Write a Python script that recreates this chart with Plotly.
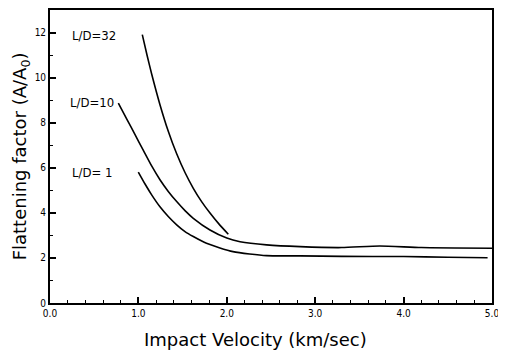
import plotly.graph_objects as go

# Data
x_ld32 = [1.044, 1.10, 1.15, 1.244, 1.338, 1.433, 1.527, 1.621, 1.715, 1.81, 1.91, 2.017]
y_ld32 = [11.91, 10.96, 10.16, 8.80, 7.62, 6.62, 5.79, 5.09, 4.50, 3.99, 3.51, 3.05]

x_ld10 = [0.773, 0.87, 0.962, 1.056, 1.150, 1.244, 1.338, 1.433, 1.527, 1.621, 1.81, 2.0,
          2.15, 2.45, 2.83, 3.3, 3.73, 4.2, 5.0]
y_ld10 = [8.87, 8.15, 7.47, 6.77, 6.08, 5.47, 4.95, 4.50, 4.10, 3.76, 3.24, 2.88,
          2.72, 2.58, 2.50, 2.46, 2.53, 2.46, 2.43]

x_ld1 = [0.999, 1.075, 1.150, 1.244, 1.338, 1.433, 1.527, 1.621, 1.77, 2.07, 2.45, 2.83,
         3.3, 4.0, 4.5, 4.95]
y_ld1 = [5.81, 5.28, 4.80, 4.27, 3.84, 3.47, 3.17, 2.95, 2.65, 2.28, 2.10, 2.09,
         2.07, 2.06, 2.03, 2.01]

series_names = ["L/D=32", "L/D=10", "L/D= 1"]
label_x = [0.23, 0.2, 0.23]
label_y = [11.85, 8.9, 5.8]

x_tickvals = [0, 1, 2, 3, 4, 5]
x_ticktext = ["0.0", "1.0", "2.0", "3.0", "4.0", "5.0"]
y_tickvals = [0, 2, 4, 6, 8, 10, 12]

FONT = "DejaVu Sans Condensed"
TFONT = "DejaVu Sans"

fig = go.Figure()
for xs, ys in [(x_ld32, y_ld32), (x_ld10, y_ld10), (x_ld1, y_ld1)]:
    fig.add_trace(go.Scatter(x=xs, y=ys, mode="lines",
                             line=dict(color="black", width=1.6, shape="spline", smoothing=0.6),
                             showlegend=False, hoverinfo="skip"))

for name, lx, ly in zip(series_names, label_x, label_y):
    fig.add_annotation(x=lx, y=ly, xref="x", yref="y", text=name, showarrow=False,
                       xanchor="left", yanchor="middle",
                       font=dict(family=FONT, size=13, color="black"))

# axis titles placed as annotations
fig.add_annotation(x=0.464, y=-0.126, xref="paper", yref="paper",
                   text="Impact Velocity (km/sec)", showarrow=False,
                   xanchor="center", yanchor="middle",
                   font=dict(family=TFONT, size=18, color="black"))
fig.add_annotation(x=-0.066, y=0.50, xref="paper", yref="paper",
                   text="Flattening factor (A/A<sub>0</sub>)", showarrow=False,
                   textangle=-90, xanchor="center", yanchor="middle",
                   font=dict(family=TFONT, size=18, color="black"))

# the page adds an 8px body margin, so the figure is sized 8px smaller
fig.update_layout(
    width=498, height=346,
    margin=dict(l=42, r=14, t=2, b=51, autoexpand=False),
    paper_bgcolor="white", plot_bgcolor="white",
    font=dict(family=FONT, color="black", size=10),
    xaxis=dict(range=[0, 5], tickvals=x_tickvals, ticktext=x_ticktext,
               ticks="inside", ticklen=6, tickwidth=1.5, tickcolor="black",
               minor=dict(dtick=0.2, tick0=0, ticks="inside", ticklen=3, tickwidth=1.2, tickcolor="black"),
               showline=True, linewidth=1.8, linecolor="black", mirror=True,
               showgrid=False, zeroline=False, automargin=False,
               tickfont=dict(family=FONT, size=10)),
    yaxis=dict(range=[0, 13], tickvals=y_tickvals,
               ticks="inside", ticklen=6, tickwidth=1.5, tickcolor="black",
               minor=dict(dtick=1, tick0=0, ticks="inside", ticklen=3, tickwidth=1.2, tickcolor="black"),
               showline=True, linewidth=1.8, linecolor="black", mirror=True,
               showgrid=False, zeroline=False, automargin=False,
               tickfont=dict(family=FONT, size=10)),
)

fig.write_html("out.html")
